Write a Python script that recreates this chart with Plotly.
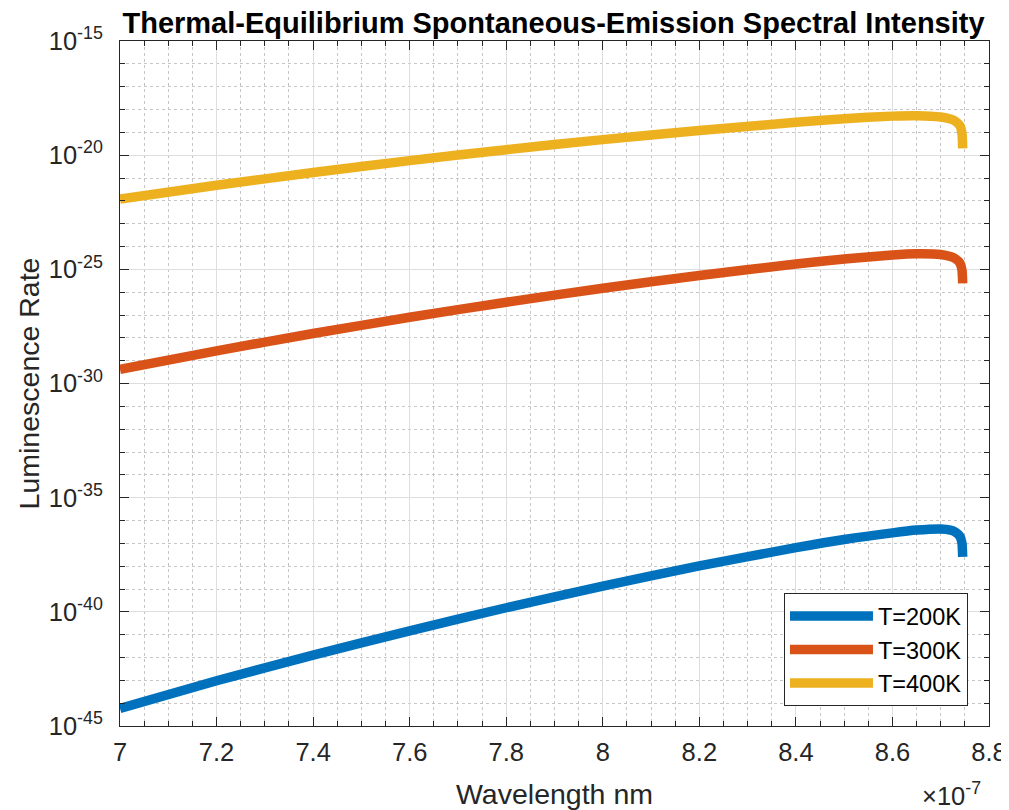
import plotly.graph_objects as go

# Wavelength samples (m)
wavelength = [7.00e-7, 7.20e-7, 7.40e-7, 7.60e-7, 7.80e-7, 8.00e-7, 8.20e-7, 8.40e-7,
              8.50e-7, 8.60e-7, 8.65e-7, 8.70e-7, 8.72e-7, 8.73e-7, 8.74e-7, 8.744e-7, 8.7455e-7]

# Luminescence rate
rate_200K = [5.89e-45, 9.55e-44, 1.26e-42, 1.48e-41, 1.51e-40, 1.35e-39, 1.02e-38, 6.46e-38,
             1.48e-37, 2.88e-37, 3.80e-37, 4.27e-37, 3.80e-37, 3.16e-37, 2.00e-37, 1.00e-37, 2.57e-38]
rate_300K = [4.17e-30, 2.69e-29, 1.55e-28, 7.94e-28, 3.63e-27, 1.48e-26, 5.37e-26, 1.70e-25,
             2.82e-25, 4.27e-25, 4.79e-25, 4.47e-25, 3.63e-25, 2.95e-25, 1.86e-25, 9.33e-26, 2.45e-26]
rate_400K = [1.20e-22, 4.79e-22, 1.74e-21, 5.75e-21, 1.74e-20, 4.79e-20, 1.20e-19, 2.75e-19,
             3.98e-19, 5.13e-19, 5.37e-19, 4.68e-19, 3.80e-19, 3.09e-19, 1.91e-19, 8.91e-20, 2.00e-20]

series_names = ["T=200K", "T=300K", "T=400K"]
series_colors = ["#0072BD", "#D95319", "#EDB120"]

x_tickvals = [7.0e-7, 7.2e-7, 7.4e-7, 7.6e-7, 7.8e-7, 8.0e-7, 8.2e-7, 8.4e-7, 8.6e-7, 8.8e-7]
x_ticktext = ["7", "7.2", "7.4", "7.6", "7.8", "8", "8.2", "8.4", "8.6", "8.8"]
y_tickvals = [1e-45, 1e-40, 1e-35, 1e-30, 1e-25, 1e-20, 1e-15]
y_ticktext = ["10<sup>-45</sup>", "10<sup>-40</sup>", "10<sup>-35</sup>", "10<sup>-30</sup>",
              "10<sup>-25</sup>", "10<sup>-20</sup>", "10<sup>-15</sup>"]

FONT = "Liberation Sans, Arial, Helvetica, sans-serif"
AX = "#262626"

fig = go.Figure()
for name, ys, col in zip(series_names, [rate_200K, rate_300K, rate_400K], series_colors):
    fig.add_trace(go.Scatter(x=wavelength, y=ys, mode="lines", name=name,
                             line=dict(color=col, width=9.5, shape="spline", smoothing=0.6)))

fig.update_layout(
    width=1001, height=802,
    margin=dict(l=112, r=20, t=33, b=84, autoexpand=False),
    paper_bgcolor="white", plot_bgcolor="white",
    font=dict(family=FONT, size=25, color=AX),
    title=dict(text="<b>Thermal-Equilibrium Spontaneous-Emission Spectral Intensity</b>",
               xref="paper", x=0.4989, xanchor="center", y=0.981, yanchor="middle",
               font=dict(family=FONT, size=29, color="black")),
    showlegend=True,
    legend=dict(x=0.9758, xanchor="right", y=0.029, yanchor="bottom",
                bgcolor="white", bordercolor=AX, borderwidth=1,
                font=dict(family=FONT, size=23.5, color="black"),
                itemwidth=83, tracegroupgap=0),
)

fig.update_xaxes(
    range=[7.0e-7, 8.8e-7], automargin=False,
    tickmode="array", tickvals=x_tickvals, ticktext=x_ticktext,
    ticks="inside", ticklen=9, tickcolor=AX, tickwidth=1,
    showline=True, linecolor=AX, linewidth=1, mirror="allticks",
    showgrid=True, gridcolor="#dedede", gridwidth=1,
    minor=dict(dtick=5e-9, tick0=7.0e-7, showgrid=True, gridcolor="#c6c6c6",
               griddash="dot", ticks="inside", ticklen=5, tickcolor=AX),
    zeroline=False, ticklabelstandoff=3,
    title=dict(text="Wavelength nm", font=dict(family=FONT, size=28.5, color=AX), standoff=20),
    tickfont=dict(family=FONT, size=25.5, color=AX),
)
fig.update_yaxes(
    type="log", range=[-45, -15], automargin=False,
    tickmode="array", tickvals=y_tickvals, ticktext=y_ticktext,
    ticks="inside", ticklen=9, tickcolor=AX, tickwidth=1,
    showline=True, linecolor=AX, linewidth=1, mirror="allticks",
    showgrid=True, gridcolor="#dedede", gridwidth=1,
    minor=dict(dtick=1, showgrid=True, gridcolor="#c6c6c6",
               griddash="dot", ticks="inside", ticklen=5, tickcolor=AX),
    zeroline=False, ticklabelstandoff=11,
    title=dict(text="Luminescence Rate", font=dict(family=FONT, size=28.5, color=AX), standoff=0),
    tickfont=dict(family=FONT, size=25.5, color=AX),
)

fig.add_annotation(text="\u00d710<sup>-7</sup>", xref="paper", yref="paper",
                   x=0.993, xanchor="right", y=-0.073, yanchor="top", showarrow=False,
                   font=dict(family=FONT, size=25.5, color=AX))

fig.write_html("out.html")
